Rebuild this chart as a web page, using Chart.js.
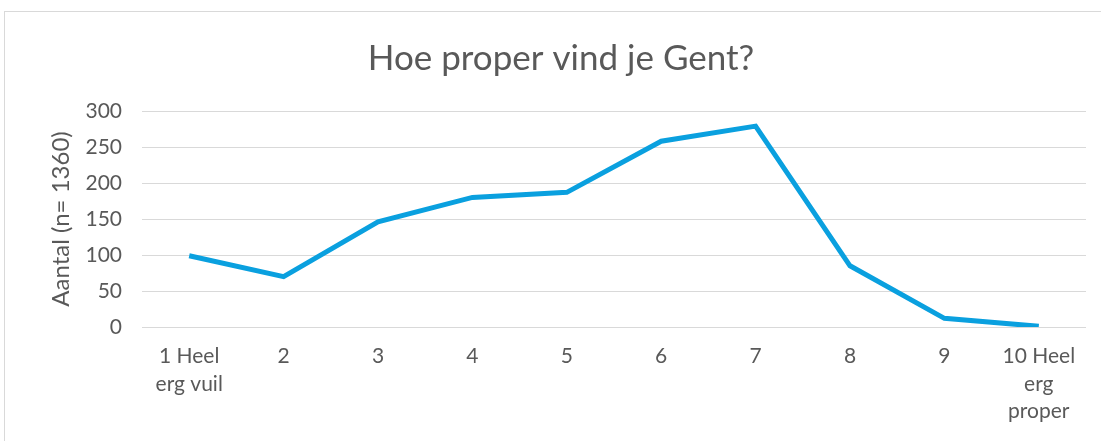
<!DOCTYPE html>
<html>
<head>
<meta charset="utf-8">
<script src="https://cdn.jsdelivr.net/npm/chart.js@4"></script>
<style>
    html, body { margin: 0; padding: 0; background: #ffffff; overflow: hidden; }
    #frame {
        position: absolute;
        left: 4px;
        top: 11px;
        width: 1110px;
        height: 450px;
        border: 1px solid #d9d9d9;
    }
    #wrap { position: absolute; left: 0; top: 0; width: 1101px; height: 441px; }
</style>
</head>
<body>
<div id="frame"></div>
<div id="wrap"><canvas id="chart" width="1101" height="441"></canvas></div>
<script>
// Score categories (1 = very dirty, 10 = very clean)
const categories = [
    ['1 Heel', 'erg vuil'], '2', '3', '4', '5', '6', '7', '8', '9', ['10 Heel', 'erg', 'proper']
];
// Number of respondents per score
const counts = [99, 70, 146, 180, 187, 258, 279, 85, 12, 1];
const yTicks = [0, 50, 100, 150, 200, 250, 300];

const textColor = '#595959';
const gridColor = '#d9d9d9';
const fontFamily = 'Lato, "Open Sans", sans-serif';

document.addEventListener('DOMContentLoaded', () => {
    const ctx = document.getElementById('chart');

    new Chart(ctx, {
        type: 'line',
        data: {
            labels: categories,
            datasets: [{
                label: 'Aantal',
                data: counts,
                borderColor: '#0aa0df',
                borderWidth: 5,
                pointRadius: 0,
                tension: 0,
                fill: false
            }]
        },
        options: {
            responsive: false,
            animation: false,
            layout: {
                padding: { left: 36, right: 15, top: 0, bottom: 0 }
            },
            plugins: {
                legend: { display: false },
                tooltip: { enabled: false },
                title: {
                    display: true,
                    text: 'Hoe proper vind je Gent?',
                    color: textColor,
                    font: { family: fontFamily, size: 35, weight: 'normal' },
                    padding: { top: 38, bottom: 31 }
                }
            },
            scales: {
                x: {
                    offset: true,
                    grid: { display: false, drawTicks: false, tickLength: 0 },
                    border: { display: false },
                    ticks: {
                        color: textColor,
                        autoSkip: false,
                        maxRotation: 0,
                        padding: 16,
                        font: { family: fontFamily, size: 21, lineHeight: 1.3 }
                    },
                    afterFit: scale => { scale.height = 114; }
                },
                y: {
                    min: 0,
                    max: 300,
                    grid: { color: gridColor, lineWidth: 1, drawTicks: false },
                    border: { display: false },
                    afterBuildTicks: scale => {
                        scale.ticks = yTicks.map(v => ({ value: v }));
                    },
                    ticks: {
                        color: textColor,
                        padding: 20,
                        font: { family: fontFamily, size: 21 }
                    },
                    title: {
                        display: true,
                        text: 'Aantal (n= 1360)',
                        color: textColor,
                        font: { family: fontFamily, size: 24 },
                        padding: { top: 11, bottom: 0 }
                    },
                    afterFit: scale => { scale.width = 106; }
                }
            }
        }
    });
});
</script>
</body>
</html>
